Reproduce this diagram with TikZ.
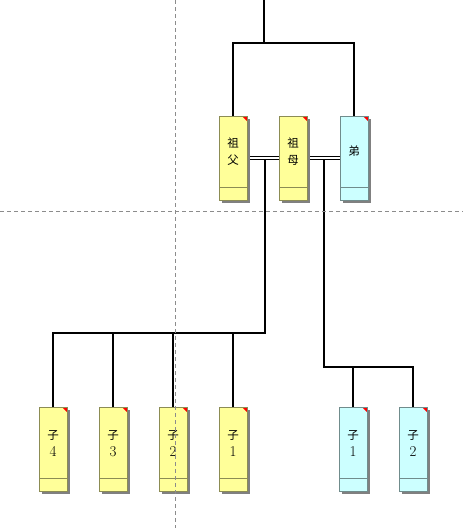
\documentclass[tikz,border=0pt]{standalone}
\usepackage{fontspec}
\newfontfamily\cjk{Noto Sans CJK SC}
\usetikzlibrary{shadows,calc}
\pgfdeclarelayer{bg}\pgfsetlayers{bg,main}
\definecolor{py}{HTML}{FFFF99}
\definecolor{pc}{HTML}{CCFFFF}
\newcommand\dig[1]{{\fontsize{15}{17}\selectfont #1}}
\tikzset{
  person/.style={draw=#1!55!black, fill=#1, line width=0.6pt,
    minimum width=28pt, minimum height=84pt, inner sep=0pt,
    drop shadow={shadow xshift=3pt,shadow yshift=-3pt,fill=black!50,opacity=1},
    path picture={
      \draw[#1!55!black,line width=0.6pt]
        ([yshift=13pt]path picture bounding box.south west) --
        ([yshift=13pt]path picture bounding box.south east);
      \fill[red] (path picture bounding box.north east) -- ++(-5pt,0pt) -- ++(5pt,-5pt) -- cycle;
    }},
  txt/.style={font=\fontsize{11.5}{17}\selectfont, align=center, inner sep=0pt},
  link/.style={line width=2pt, black},
  marry/.style={line width=0.9pt, double=white, double distance=1.6pt, black},
  guide/.style={black!45, line width=0.8pt, dash pattern=on 4pt off 3pt}
}
\begin{document}
\begin{tikzpicture}[x=1pt,y=-1pt]
\useasboundingbox (0,0) rectangle (463,528);
% top row
\node[person=py] (zf) at (233,158) {};
\node[person=py] (zm) at (293,158) {};
\node[person=pc] (di) at (354,158) {};
\node[txt] (tzf) at (233,151.5) {{\cjk 祖}\\{\cjk 父}};
\node[txt] (tzm) at (293,151.5) {{\cjk 祖}\\{\cjk 母}};
\node[txt] (tdi) at (354,151.5) {{\cjk 弟}};
% bottom row
\node[person=py] (k4) at (53,449) {};
\node[person=py] (k3) at (113,449) {};
\node[person=py] (k2) at (173,449) {};
\node[person=py] (k1) at (233,449) {};
\node[person=pc] (c1) at (353,449) {};
\node[person=pc] (c2) at (413,449) {};
\node[txt] (tk4) at (53,444) {{\cjk 子}\\\dig{4}};
\node[txt] (tk3) at (113,444) {{\cjk 子}\\\dig{3}};
\node[txt] (tk2) at (173,444) {{\cjk 子}\\\dig{2}};
\node[txt] (tk1) at (233,444) {{\cjk 子}\\\dig{1}};
\node[txt] (tc1) at (353,444) {{\cjk 子}\\\dig{1}};
\node[txt] (tc2) at (413,444) {{\cjk 子}\\\dig{2}};
% coordinates
\coordinate (top) at (264,0);
\coordinate (tj) at (264,43);
\coordinate (m1) at (265,158);
\coordinate (j1) at (265,333);
\coordinate (m2) at (324,158);
\coordinate (j2) at (324,367);
\begin{pgfonlayer}{bg}
\draw[link] (top) -- (tj);
\draw[link] (zf.north) -- (zf.north |- tj) -- (di.north |- tj) -- (di.north);
\draw[marry] (zf.east) -- (zm.west);
\draw[marry] (zm.east) -- (di.west);
\draw[link] ([yshift=-1.5pt]m1) -- (j1) -| (k4.north);
\draw[link] (k3.north) -- (k3.north |- j1);
\draw[link] (k2.north) -- (k2.north |- j1);
\draw[link] (k1.north) -- (k1.north |- j1);
\draw[link] ([yshift=-1.5pt]m2) -- (j2) -| (c2.north);
\draw[link] (c1.north) -- (c1.north |- j2);
\end{pgfonlayer}
% guides
\coordinate (g1) at (175,0);
\coordinate (g2) at (175,528);
\coordinate (g3) at (0,211);
\coordinate (g4) at (463,211);
\draw[guide] (g1) -- (g2);
\draw[guide] (g3) -- (g4);
\end{tikzpicture}
\end{document}
